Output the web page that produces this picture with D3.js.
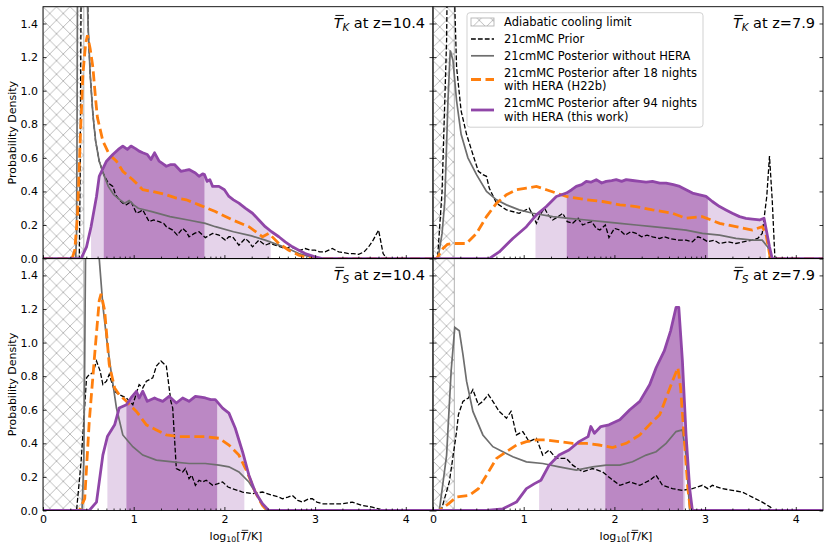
<!DOCTYPE html>
<html>
<head>
<meta charset="utf-8">
<script src="https://cdn.jsdelivr.net/npm/d3@7"></script>
<style>
  body { margin: 0; background: #fff; }
  svg { display: block; font-family: 'DejaVu Sans', sans-serif; }
</style>
</head>
<body>
<div id="chart-container"></div>
<script>
// ---- data (log10 T, probability density) ----
const xTicks = [0, 1, 2, 3, 4];
const yTicks = [0, 0.2, 0.4, 0.6, 0.8, 1.0, 1.2, 1.4];
const coolingLimits = [0.45, 0.235, 0.45, 0.235];

const priorTK104 = [[0,0],[0.40,0],[0.41,0.5],[0.42,1.6],[0.44,3.2],[0.47,3.2],[0.49,1.6],[0.5,1.35],[0.52,1.1],[0.55,0.86],[0.58,0.7],[0.62,0.58],[0.67,0.5],[0.72,0.45],[0.77,0.43],[0.8,0.38],[0.84,0.35],[0.88,0.33],[0.92,0.32],[0.97,0.34],[1.03,0.27],[1.07,0.28],[1.1,0.29],[1.17,0.22],[1.22,0.23],[1.28,0.22],[1.33,0.21],[1.36,0.19],[1.43,0.17],[1.48,0.14],[1.54,0.18],[1.58,0.16],[1.61,0.13],[1.67,0.15],[1.72,0.16],[1.79,0.125],[1.87,0.15],[1.94,0.14],[2.01,0.11],[2.05,0.13],[2.09,0.13],[2.16,0.08],[2.23,0.12],[2.27,0.1],[2.31,0.07],[2.38,0.11],[2.45,0.08],[2.5,0.09],[2.56,0.08],[2.62,0.07],[2.67,0.06],[2.72,0.07],[2.78,0.06],[2.84,0.05],[2.89,0.06],[2.95,0.05],[3.0,0.05],[3.05,0.04],[3.11,0.04],[3.15,0.05],[3.19,0.06],[3.26,0.04],[3.32,0.035],[3.37,0.03],[3.42,0.03],[3.48,0.025],[3.54,0.04],[3.59,0.07],[3.64,0.11],[3.7,0.17],[3.75,0.03],[3.79,0],[4.3,0]];
const grayTK104 = [[0,0],[0.36,0],[0.37,0.15],[0.375,0.7],[0.38,1.6],[0.39,3.5],[0.46,3.5],[0.485,1.6],[0.5,1.35],[0.52,1.1],[0.55,0.86],[0.58,0.7],[0.62,0.58],[0.67,0.5],[0.72,0.43],[0.78,0.38],[0.85,0.35],[0.9,0.33],[0.95,0.345],[1.0,0.32],[1.05,0.3],[1.2,0.28],[1.4,0.25],[1.6,0.23],[1.79,0.21],[1.9,0.19],[2.1,0.16],[2.3,0.135],[2.45,0.11],[2.6,0.08],[2.7,0.06],[2.82,0.03],[2.95,0.01],[3.1,0],[4.3,0]];
const orangeTK104 = [[0,0],[0.32,0],[0.35,0.05],[0.38,0.25],[0.41,0.7],[0.44,1.1],[0.47,1.28],[0.49,1.33],[0.52,1.25],[0.55,1.14],[0.58,0.95],[0.6,0.84],[0.66,0.7],[0.73,0.62],[0.81,0.58],[0.88,0.52],[0.99,0.47],[1.1,0.41],[1.21,0.4],[1.36,0.38],[1.47,0.36],[1.58,0.35],[1.72,0.32],[1.9,0.28],[2.09,0.23],[2.27,0.19],[2.42,0.13],[2.49,0.15],[2.6,0.09],[2.71,0.05],[2.82,0.02],[2.93,0.004],[3.0,0],[4.3,0]];
const purpleTK104 = [[0,0],[0.42,0],[0.48,0.07],[0.53,0.19],[0.59,0.37],[0.62,0.49],[0.7,0.58],[0.77,0.62],[0.83,0.65],[0.88,0.67],[0.93,0.65],[0.97,0.67],[1.02,0.655],[1.06,0.64],[1.1,0.63],[1.15,0.62],[1.19,0.59],[1.23,0.63],[1.28,0.58],[1.32,0.565],[1.36,0.55],[1.41,0.56],[1.45,0.56],[1.52,0.52],[1.57,0.525],[1.61,0.53],[1.68,0.51],[1.72,0.49],[1.76,0.505],[1.78,0.5],[1.81,0.46],[1.84,0.47],[1.87,0.43],[1.94,0.43],[2.0,0.41],[2.05,0.37],[2.1,0.35],[2.16,0.33],[2.23,0.3],[2.31,0.27],[2.38,0.23],[2.45,0.19],[2.52,0.16],[2.6,0.13],[2.67,0.1],[2.75,0.07],[2.82,0.05],[2.89,0.03],[3.0,0.01],[3.08,0],[4.3,0]];

const priorTK79 = [[0,0],[0.05,0],[0.1,0.4],[0.15,1.3],[0.18,2.8],[0.215,2.8],[0.235,1.6],[0.26,1.14],[0.31,0.88],[0.37,0.74],[0.44,0.62],[0.5,0.52],[0.55,0.5],[0.59,0.49],[0.62,0.42],[0.7,0.33],[0.81,0.29],[0.95,0.27],[1.06,0.3],[1.1,0.26],[1.14,0.21],[1.18,0.26],[1.23,0.3],[1.27,0.26],[1.32,0.23],[1.38,0.25],[1.43,0.27],[1.48,0.22],[1.54,0.21],[1.6,0.24],[1.65,0.2],[1.69,0.21],[1.75,0.22],[1.8,0.18],[1.84,0.17],[1.9,0.2],[1.94,0.125],[2.0,0.18],[2.06,0.17],[2.12,0.14],[2.18,0.16],[2.24,0.15],[2.3,0.13],[2.36,0.14],[2.42,0.13],[2.5,0.12],[2.55,0.13],[2.61,0.12],[2.7,0.11],[2.79,0.11],[2.86,0.1],[2.92,0.13],[2.97,0.12],[3.03,0.1],[3.1,0.11],[3.16,0.09],[3.25,0.1],[3.34,0.09],[3.42,0.1],[3.52,0.11],[3.58,0.12],[3.63,0.15],[3.68,0.37],[3.71,0.61],[3.74,0.35],[3.77,0],[4.3,0]];
const grayTK79 = [[0,0],[0.055,0],[0.1,0.15],[0.13,0.34],[0.165,0.94],[0.19,1.24],[0.22,1.18],[0.26,0.94],[0.31,0.74],[0.385,0.6],[0.48,0.5],[0.59,0.4],[0.7,0.35],[0.81,0.32],[0.95,0.29],[1.1,0.27],[1.32,0.25],[1.5,0.24],[1.69,0.23],[1.87,0.22],[2.06,0.21],[2.24,0.2],[2.42,0.19],[2.61,0.18],[2.79,0.17],[2.97,0.15],[3.16,0.14],[3.34,0.12],[3.52,0.11],[3.63,0.11],[3.69,0.07],[3.74,0],[4.3,0]];
const orangeTK79 = [[0,0],[0.04,0],[0.11,0.06],[0.16,0.085],[0.22,0.09],[0.3,0.09],[0.37,0.09],[0.48,0.15],[0.59,0.25],[0.7,0.33],[0.81,0.38],[0.92,0.41],[1.03,0.42],[1.14,0.43],[1.25,0.41],[1.36,0.39],[1.47,0.37],[1.58,0.36],[1.69,0.35],[1.87,0.34],[2.06,0.32],[2.24,0.31],[2.42,0.29],[2.64,0.27],[2.79,0.24],[2.97,0.25],[3.16,0.21],[3.34,0.19],[3.52,0.17],[3.63,0.19],[3.67,0.15],[3.72,0],[4.3,0]];
const purpleTK79 = [[0,0],[0.62,0],[0.73,0.04],[0.88,0.12],[1.03,0.19],[1.14,0.26],[1.25,0.31],[1.36,0.37],[1.47,0.39],[1.53,0.41],[1.58,0.43],[1.64,0.44],[1.69,0.46],[1.74,0.455],[1.8,0.47],[1.86,0.45],[1.91,0.46],[1.97,0.465],[2.02,0.47],[2.08,0.46],[2.13,0.47],[2.2,0.465],[2.28,0.46],[2.35,0.455],[2.42,0.46],[2.5,0.45],[2.57,0.45],[2.65,0.44],[2.72,0.43],[2.79,0.41],[2.86,0.39],[2.94,0.38],[3.01,0.37],[3.08,0.34],[3.16,0.31],[3.23,0.29],[3.3,0.27],[3.38,0.25],[3.45,0.24],[3.52,0.235],[3.6,0.23],[3.65,0.24],[3.71,0.07],[3.74,0],[4.3,0]];

const priorTS104 = [[0,0],[0.37,0],[0.42,0.29],[0.48,0.79],[0.51,0.81],[0.55,0.82],[0.59,0.89],[0.63,0.83],[0.66,0.75],[0.7,0.77],[0.73,0.81],[0.79,0.71],[0.84,0.69],[0.92,0.67],[0.99,0.63],[1.06,0.75],[1.1,0.73],[1.14,0.77],[1.21,0.79],[1.25,0.86],[1.3,0.89],[1.36,0.86],[1.41,0.65],[1.43,0.61],[1.47,0.25],[1.54,0.23],[1.57,0.25],[1.61,0.19],[1.64,0.21],[1.68,0.15],[1.72,0.18],[1.76,0.17],[1.8,0.18],[1.87,0.15],[1.93,0.16],[1.98,0.17],[2.04,0.14],[2.09,0.13],[2.2,0.11],[2.31,0.1],[2.42,0.11],[2.53,0.09],[2.6,0.08],[2.64,0.07],[2.7,0.08],[2.75,0.09],[2.81,0.06],[2.86,0.05],[2.93,0.07],[2.97,0.07],[3.02,0.05],[3.08,0.04],[3.19,0.04],[3.3,0.04],[3.41,0.05],[3.52,0.03],[3.63,0.02],[3.74,0.004],[3.81,0],[4.3,0]];
const grayTS104 = [[0,0],[0.43,0],[0.45,0.3],[0.46,0.9],[0.47,1.6],[0.49,3.0],[0.58,3.0],[0.62,1.5],[0.66,1.22],[0.7,1.03],[0.75,0.83],[0.81,0.61],[0.88,0.45],[0.99,0.38],[1.1,0.33],[1.25,0.3],[1.43,0.29],[1.61,0.28],[1.79,0.28],[1.94,0.27],[2.05,0.26],[2.16,0.23],[2.27,0.17],[2.34,0.11],[2.42,0.03],[2.47,0],[4.3,0]];
const orangeTS104 = [[0,0],[0.4,0],[0.46,0.07],[0.51,0.53],[0.57,0.93],[0.62,1.25],[0.64,1.29],[0.68,1.19],[0.73,0.87],[0.79,0.73],[0.84,0.69],[0.92,0.65],[1.03,0.59],[1.14,0.51],[1.25,0.48],[1.36,0.45],[1.5,0.44],[1.65,0.44],[1.79,0.44],[1.94,0.43],[2.05,0.39],[2.16,0.33],[2.25,0.23],[2.34,0.11],[2.42,0.03],[2.47,0],[4.3,0]];
const purpleTS104 = [[0,0],[0.51,0],[0.59,0.05],[0.66,0.33],[0.71,0.44],[0.79,0.51],[0.84,0.61],[0.92,0.63],[0.97,0.67],[1.03,0.71],[1.06,0.67],[1.1,0.71],[1.15,0.65],[1.23,0.67],[1.27,0.66],[1.32,0.65],[1.39,0.68],[1.47,0.64],[1.54,0.67],[1.61,0.65],[1.68,0.68],[1.74,0.675],[1.79,0.67],[1.85,0.66],[1.9,0.66],[1.98,0.61],[2.05,0.58],[2.12,0.49],[2.2,0.35],[2.27,0.21],[2.34,0.11],[2.42,0.04],[2.49,0],[4.3,0]];

const priorTS79 = [[0,0],[0.09,0],[0.18,0.17],[0.26,0.47],[0.28,0.57],[0.33,0.65],[0.39,0.67],[0.44,0.72],[0.5,0.63],[0.55,0.65],[0.61,0.69],[0.66,0.65],[0.73,0.59],[0.81,0.55],[0.86,0.59],[0.92,0.45],[0.99,0.47],[1.06,0.41],[1.14,0.43],[1.21,0.33],[1.28,0.36],[1.36,0.31],[1.47,0.31],[1.54,0.27],[1.65,0.23],[1.76,0.25],[1.87,0.23],[1.96,0.19],[2.06,0.15],[2.17,0.17],[2.28,0.15],[2.39,0.18],[2.46,0.21],[2.53,0.15],[2.64,0.13],[2.75,0.12],[2.86,0.13],[2.97,0.15],[3.03,0.13],[3.08,0.15],[3.19,0.13],[3.3,0.12],[3.41,0.11],[3.52,0.08],[3.63,0.05],[3.72,0.02],[3.76,0],[4.3,0]];
const grayTS79 = [[0,0],[0.07,0],[0.15,0.33],[0.2,0.83],[0.24,1.09],[0.29,1.07],[0.33,0.93],[0.37,0.77],[0.44,0.59],[0.55,0.45],[0.66,0.38],[0.77,0.35],[0.88,0.32],[1.03,0.29],[1.21,0.28],[1.39,0.26],[1.58,0.24],[1.76,0.26],[1.91,0.27],[2.06,0.27],[2.2,0.29],[2.35,0.33],[2.46,0.35],[2.57,0.4],[2.68,0.47],[2.75,0.48],[2.79,0.33],[2.83,0],[4.3,0]];
const orangeTS79 = [[0,0],[0.07,0],[0.17,0.04],[0.26,0.08],[0.4,0.09],[0.5,0.13],[0.59,0.21],[0.7,0.31],[0.81,0.35],[0.92,0.39],[1.03,0.41],[1.14,0.42],[1.25,0.42],[1.39,0.41],[1.54,0.4],[1.69,0.4],[1.83,0.39],[1.98,0.375],[2.13,0.4],[2.28,0.45],[2.42,0.53],[2.5,0.57],[2.57,0.67],[2.64,0.77],[2.7,0.85],[2.73,0.73],[2.77,0.43],[2.81,0.13],[2.84,0],[4.3,0]];
const purpleTS79 = [[0,0],[0.59,0],[0.77,0.01],[0.92,0.05],[1.03,0.13],[1.12,0.16],[1.19,0.18],[1.28,0.27],[1.39,0.33],[1.5,0.36],[1.61,0.41],[1.71,0.44],[1.74,0.5],[1.78,0.46],[1.85,0.5],[1.94,0.51],[2.06,0.54],[2.17,0.6],[2.28,0.65],[2.39,0.75],[2.46,0.85],[2.55,0.95],[2.62,1.07],[2.68,1.21],[2.71,1.21],[2.75,0.89],[2.79,0.45],[2.83,0.13],[2.86,0],[4.3,0]];

// credible intervals of the 94-night posterior
const wideIntervals = [[0.53, 2.51], [1.13, 3.67], [0.71, 2.22], [1.17, 2.78]];
const narrowIntervals = [[0.67, 1.78], [1.475, 3.03], [0.92, 1.92], [1.90, 2.76]];

const panelSubs = ['K', 'K', 'S', 'S'];
const panelRedshifts = ['10.4', '7.9', '10.4', '7.9'];
const priors = [priorTK104, priorTK79, priorTS104, priorTS79];
const grays = [grayTK104, grayTK79, grayTS104, grayTS79];
const oranges = [orangeTK104, orangeTK79, orangeTS104, orangeTS79];
const purples = [purpleTK104, purpleTK79, purpleTS104, purpleTS79];

// ---- layout ----
const svgWidth = 830;
const svgHeight = 550;
const marginLeft = 43;
const marginTop = 6.7;
const panelW = 390;
const panelH = 251.9;
const xMax = 4.3;
const yMax = 1.5;

const PURPLE = '#9046a8';
const PURPLE_DARK = '#bb88c4';
const PURPLE_LIGHT = '#e5d3ea';
const ORANGE = '#ff7f0e';
const GRAY = '#6e6e6e';
const HATCH = '#b4b4b4';

const minorTicks = [];
for (let n = 0; n < 5; n++) {
  for (let k = 2; k <= 9; k++) {
    const v = n + Math.log10(k);
    if (v < xMax - 0.01) minorTicks.push(v);
  }
}

const xScale = d3.scaleLinear().domain([0, xMax]).range([0, panelW]);
const yScale = d3.scaleLinear().domain([0, yMax]).range([panelH, 0]);

const svg = d3
  .create('svg')
  .attr('width', svgWidth)
  .attr('height', svgHeight)
  .attr('viewBox', [0, 0, svgWidth, svgHeight]);
// attach first so text can be measured
document.querySelector('#chart-container').append(svg.node());

const defs = svg.append('defs');
const pattern = defs
  .append('pattern')
  .attr('id', 'hatch')
  .attr('patternUnits', 'userSpaceOnUse')
  .attr('width', 13.5)
  .attr('height', 13.5);
pattern
  .append('path')
  .attr('d', 'M0,0L13.5,13.5M13.5,0L0,13.5')
  .attr('stroke', HATCH)
  .attr('stroke-width', 0.9)
  .attr('fill', 'none');

function interp(data, x) {
  for (let i = 1; i < data.length; i++) {
    if (data[i][0] >= x) {
      const [x0, y0] = data[i - 1];
      const [x1, y1] = data[i];
      return x1 === x0 ? y1 : y0 + ((y1 - y0) * (x - x0)) / (x1 - x0);
    }
  }
  return 0;
}

function intervalPoints(data, [a, b]) {
  return [
    [a, interp(data, a)],
    ...data.filter((d) => d[0] > a && d[0] < b),
    [b, interp(data, b)],
  ];
}

const line = d3
  .line()
  .x((d) => xScale(d[0]))
  .y((d) => yScale(d[1]));

const area = d3
  .area()
  .x((d) => xScale(d[0]))
  .y0(yScale(0))
  .y1((d) => yScale(d[1]));

// T with an overline (panel labels and x label)
function barLabel(g, x, y, size, sub, rest, anchor) {
  const t = g
    .append('text')
    .attr('x', x)
    .attr('y', y)
    .attr('font-size', size)
    .attr('text-anchor', anchor)
    .attr('fill', 'black');
  let tIndex = 0;
  if (sub === 'log') {
    t.append('tspan').text('log');
    t.append('tspan').attr('font-size', size * 0.7).attr('dy', size * 0.2).text('10');
    t.append('tspan').attr('dy', -size * 0.2).text('[');
    t.append('tspan').attr('font-style', 'italic').text('T');
    t.append('tspan').text('/K]');
    tIndex = 6;
  } else {
    t.append('tspan').attr('font-style', 'italic').text('T');
    t.append('tspan')
      .attr('font-style', 'italic')
      .attr('font-size', size * 0.7)
      .attr('dy', size * 0.22)
      .text(sub);
    t.append('tspan').attr('dy', -size * 0.22).text(rest);
  }
  const box = t.node().getExtentOfChar(tIndex);
  g.append('line')
    .attr('x1', box.x + size * 0.12)
    .attr('x2', box.x + box.width + size * 0.1)
    .attr('y1', y - size * 0.88)
    .attr('y2', y - size * 0.88)
    .attr('stroke', 'black')
    .attr('stroke-width', size * 0.065);
}

for (let p = 0; p < 4; p++) {
  const row = Math.floor(p / 2);
  const col = p % 2;
  const g = svg
    .append('g')
    .attr('transform', `translate(${marginLeft + col * panelW},${marginTop + row * panelH})`);

  defs
    .append('clipPath')
    .attr('id', `clip${p}`)
    .append('rect')
    .attr('width', panelW)
    .attr('height', panelH);

  const plot = g.append('g').attr('clip-path', `url(#clip${p})`);

  // adiabatic cooling limit
  plot
    .append('rect')
    .attr('x', 0)
    .attr('y', 0)
    .attr('width', xScale(coolingLimits[p]))
    .attr('height', panelH)
    .attr('fill', 'url(#hatch)')
    .attr('stroke', HATCH)
    .attr('stroke-width', 1);

  plot
    .append('path')
    .attr('d', area(intervalPoints(purples[p], wideIntervals[p])))
    .attr('fill', PURPLE_LIGHT);
  plot
    .append('path')
    .attr('d', area(intervalPoints(purples[p], narrowIntervals[p])))
    .attr('fill', PURPLE_DARK);

  plot
    .append('path')
    .attr('d', line(priors[p]))
    .attr('fill', 'none')
    .attr('stroke', 'black')
    .attr('stroke-width', 1.3)
    .attr('stroke-dasharray', '4.8,2.1');
  plot
    .append('path')
    .attr('d', line(grays[p]))
    .attr('fill', 'none')
    .attr('stroke', GRAY)
    .attr('stroke-width', 1.7);
  plot
    .append('path')
    .attr('d', line(oranges[p]))
    .attr('fill', 'none')
    .attr('stroke', ORANGE)
    .attr('stroke-width', 2.8)
    .attr('stroke-dasharray', '10,4.5');
  plot
    .append('path')
    .attr('d', line(purples[p]))
    .attr('fill', 'none')
    .attr('stroke', PURPLE)
    .attr('stroke-width', 2.8)
    .attr('stroke-linejoin', 'round');

  // axes, ticks pointing in
  g.append('g')
    .attr('transform', `translate(0,${panelH})`)
    .call(
      d3.axisBottom(xScale)
        .tickValues(xTicks)
        .tickSize(-3.5)
        .tickPadding(5)
        .tickFormat(row === 1 ? d3.format('d') : () => '')
    )
    .call((a) => a.select('.domain').remove());
  g.append('g')
    .attr('transform', `translate(0,${panelH})`)
    .call(d3.axisBottom(xScale).tickValues(minorTicks).tickSize(-2).tickFormat(() => ''))
    .call((a) => a.select('.domain').remove());
  g.append('g')
    .call(
      d3.axisLeft(yScale)
        .tickValues(yTicks)
        .tickSize(-3.5)
        .tickPadding(5)
        .tickFormat(col === 0 ? d3.format('.1f') : () => '')
    )
    .call((a) => a.select('.domain').remove());
  g.append('g')
    .attr('transform', `translate(${panelW},0)`)
    .call(d3.axisRight(yScale).tickValues(yTicks).tickSize(-3.5).tickFormat(() => ''))
    .call((a) => a.select('.domain').remove());

  g.selectAll('.tick text')
    .attr('font-size', 11)
    .attr('font-family', 'DejaVu Sans, sans-serif')
    .attr('fill', 'black');
  g.selectAll('.tick line').attr('stroke', 'black').attr('stroke-width', 0.8);

  g.append('rect')
    .attr('width', panelW)
    .attr('height', panelH)
    .attr('fill', 'none')
    .attr('stroke', 'black')
    .attr('stroke-width', 0.9);

  barLabel(g, panelW - 8, 21.5, 14.5, panelSubs[p], ` at z=${panelRedshifts[p]}`, 'end');

  if (col === 0) {
    svg
      .append('text')
      .attr('transform', `translate(16,${marginTop + row * panelH + panelH / 2}) rotate(-90)`)
      .attr('text-anchor', 'middle')
      .attr('font-size', 11)
      .text('Probability Density');
  }
  if (row === 1) {
    barLabel(svg, marginLeft + col * panelW + panelW / 2 - 2, 540, 11, 'log', '', 'middle');
  }
}

// ---- legend ----
const legend = svg.append('g');
legend
  .append('rect')
  .attr('x', 467)
  .attr('y', 12.7)
  .attr('width', 236)
  .attr('height', 114.5)
  .attr('rx', 3)
  .attr('fill', 'white')
  .attr('fill-opacity', 0.85)
  .attr('stroke', '#cccccc')
  .attr('stroke-width', 0.9);

const legendEntries = [
  { lines: ['Adiabatic cooling limit'], y: 22 },
  { lines: ['21cmMC Prior'], y: 39, stroke: 'black', width: 1.3, dash: '4.8,2.1' },
  { lines: ['21cmMC Posterior without HERA'], y: 55.8, stroke: GRAY, width: 1.7 },
  { lines: ['21cmMC Posterior after 18 nights', 'with HERA (H22b)'], y: 72.7, stroke: ORANGE, width: 2.8, dash: '10,4.5' },
  { lines: ['21cmMC Posterior after 94 nights', 'with HERA (this work)'], y: 103.2, stroke: PURPLE, width: 2.8 },
];
const lineGap = 13.6;

legendEntries.forEach((e, i) => {
  const mid = e.y + ((e.lines.length - 1) * lineGap) / 2;
  if (i === 0) {
    legend
      .append('rect')
      .attr('x', 471)
      .attr('y', mid - 4)
      .attr('width', 23)
      .attr('height', 8)
      .attr('fill', 'url(#hatch)')
      .attr('stroke', HATCH)
      .attr('stroke-width', 0.9);
  } else {
    legend
      .append('line')
      .attr('x1', 471)
      .attr('x2', 494)
      .attr('y1', mid)
      .attr('y2', mid)
      .attr('stroke', e.stroke)
      .attr('stroke-width', e.width)
      .attr('stroke-dasharray', e.dash || null);
  }
  e.lines.forEach((txt, j) => {
    legend
      .append('text')
      .attr('x', 504)
      .attr('y', e.y + j * lineGap)
      .attr('dy', '0.36em')
      .attr('font-size', 11.5)
      .text(txt);
  });
});
</script>
</body>
</html>
